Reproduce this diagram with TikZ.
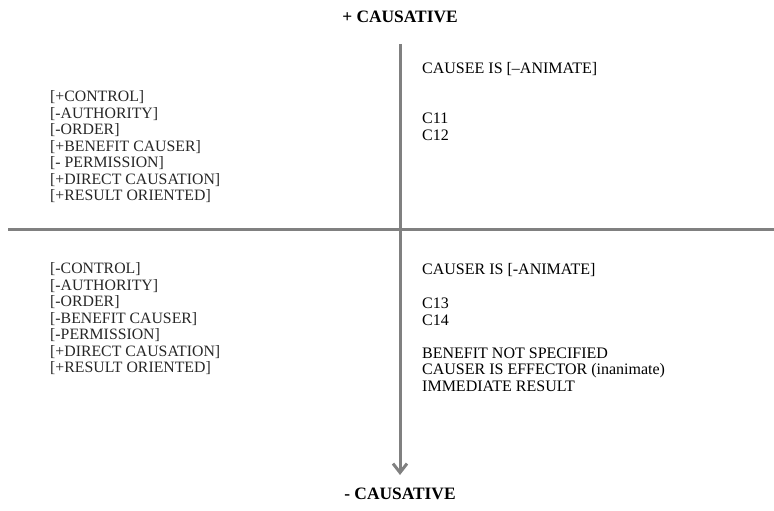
\documentclass[tikz,border=0pt]{standalone}
\usepackage{fontspec}
\setmainfont{Liberation Serif}
\usetikzlibrary{arrows.meta}
\begin{document}
\begin{tikzpicture}[x=1pt,y=-1pt,
  axis/.style={draw=black!50, line width=3pt},
  heading/.style={font=\fontsize{17.4}{20}\selectfont\bfseries, inner sep=0pt, anchor=base},
  feat/.style={font=\fontsize{15.8}{16}\selectfont, text=black!85, inner sep=0pt, anchor=base west},
  note/.style={font=\fontsize{16}{18}\selectfont, inner sep=0pt, anchor=base west}]
  \useasboundingbox (0,0) rectangle (774,511);

  % axes
  \coordinate (top) at (400,44);
  \coordinate (bottom) at (400,475);
  \coordinate (west) at (8,229);
  \coordinate (east) at (774,229);
  \draw[axis] (west) -- (east);
  \draw[axis, -{Straight Barb[length=9pt,width=14pt]}] (top) -- (bottom);

  % headings
  \node[heading] (plus) at (400,22.8) {+ CAUSATIVE};
  \node[heading] (minus) at (400,499.8) {- CAUSATIVE};

  % upper left features
  \foreach \t [count=\i from 0] in {+CONTROL,-AUTHORITY,-ORDER,+BENEFIT CAUSER,- PERMISSION,+DIRECT CAUSATION,+RESULT ORIENTED}
    \node[feat] (ul-\i) at (50,101.5+16.5*\i) {[\t]};

  % lower left features
  \foreach \t [count=\i from 0] in {-CONTROL,-AUTHORITY,-ORDER,-BENEFIT CAUSER,-PERMISSION,+DIRECT CAUSATION,+RESULT ORIENTED}
    \node[feat] (ll-\i) at (50,273.5+16.5*\i) {[\t]};

  % upper right notes
  \node[note] (ur-a) at (422,73.3) {CAUSEE IS [--ANIMATE]};
  \node[note] (ur-b) at (422,123.3) {C11};
  \node[note] (ur-c) at (422,140) {C12};

  % lower right notes
  \node[note] (lr-a) at (422,274.3) {CAUSER IS [-ANIMATE]};
  \node[note] (lr-b) at (422,308.3) {C13};
  \node[note] (lr-c) at (422,325) {C14};
  \node[note] (lr-d) at (422,358) {BENEFIT NOT SPECIFIED};
  \node[note] (lr-e) at (422,374.5) {CAUSER IS EFFECTOR (inanimate)};
  \node[note] (lr-f) at (422,391) {IMMEDIATE RESULT};
\end{tikzpicture}
\end{document}
